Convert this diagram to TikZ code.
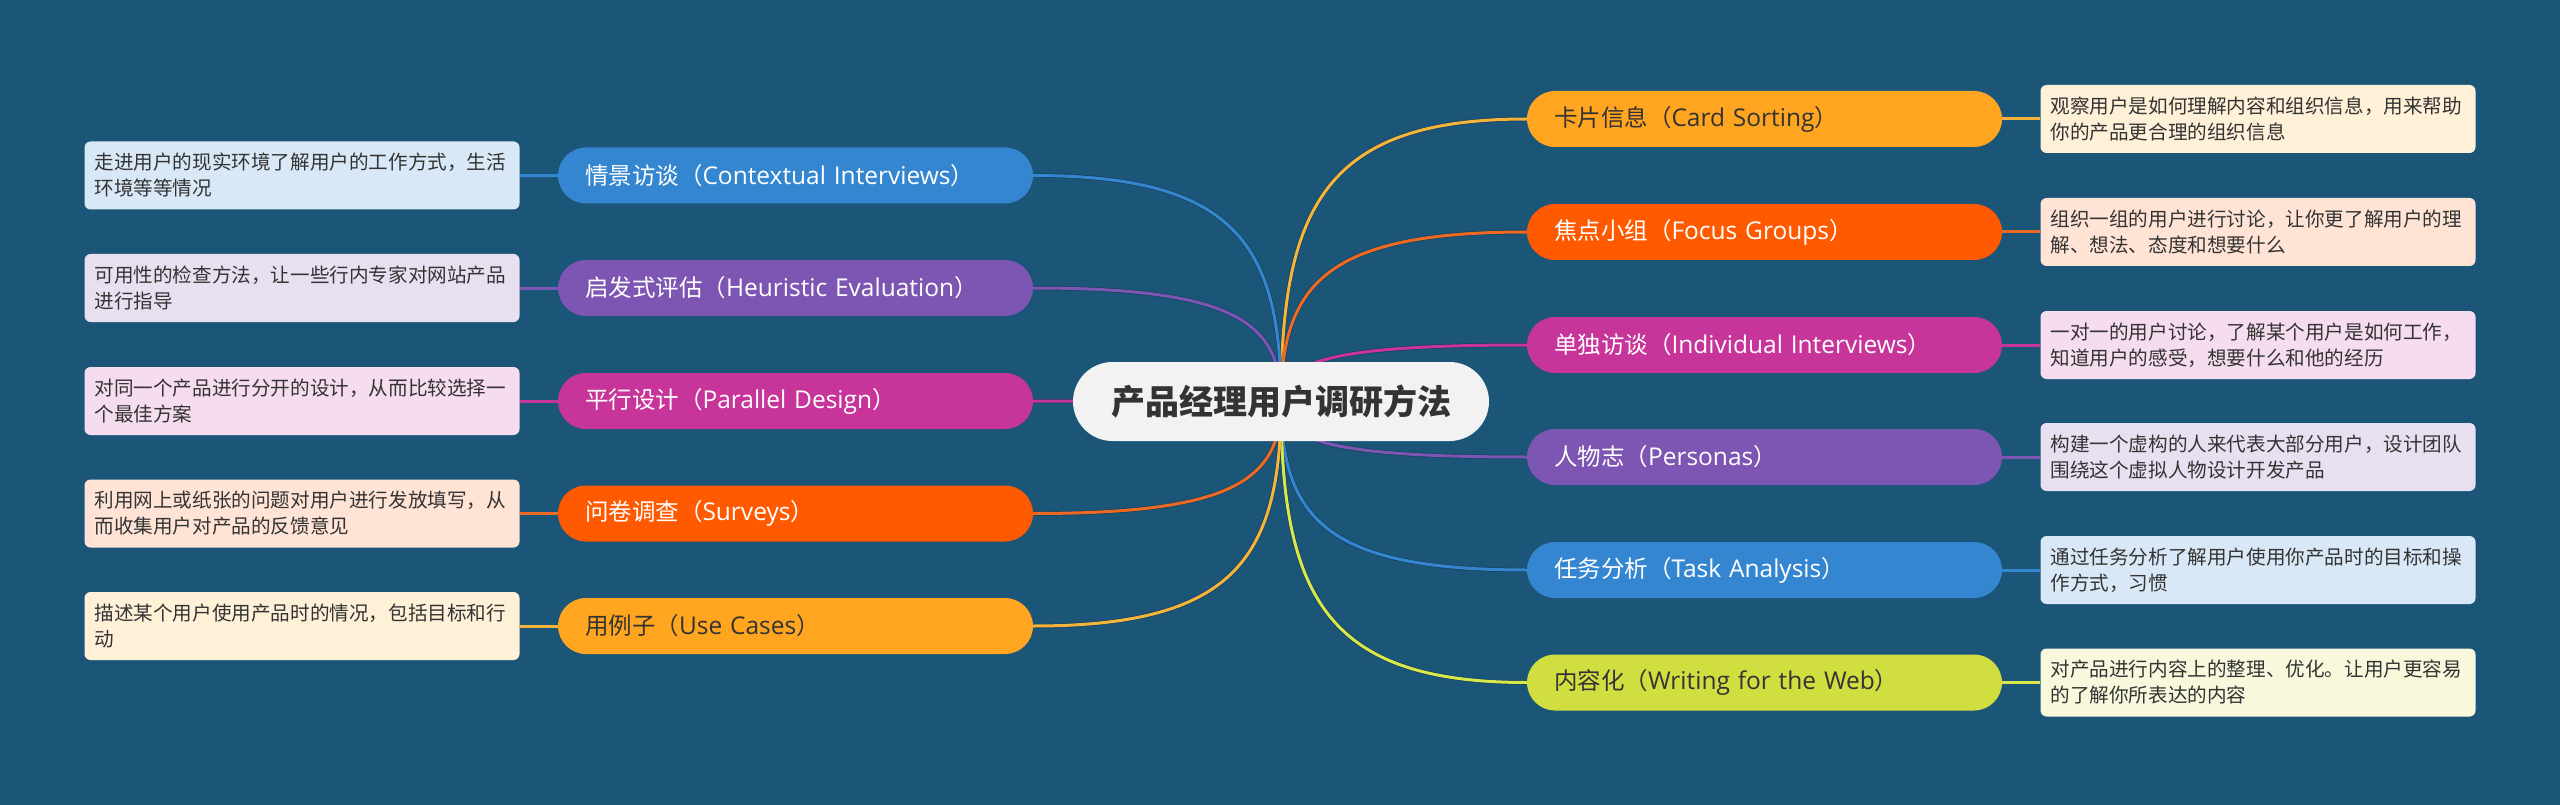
\documentclass[tikz,border=0pt]{standalone}
\usepackage{fontspec}
\setmainfont{Noto Sans CJK SC}
\newfontfamily\lat{Open Sans}
\usetikzlibrary{calc,backgrounds}
\pgfdeclarelayer{bg}
\pgfsetlayers{bg,background,main}
\definecolor{bgc}{HTML}{1B5578}
\definecolor{txt}{HTML}{333333}
\definecolor{cOr}{HTML}{FFA51F}
\definecolor{cOrL}{HTML}{F6B43A}
\definecolor{cOrD}{HTML}{FFF0D8}
\definecolor{cRd}{HTML}{FF5A00}
\definecolor{cRdL}{HTML}{EE6A24}
\definecolor{cRdD}{HTML}{FFE4D6}
\definecolor{cMg}{HTML}{C8359A}
\definecolor{cMgD}{HTML}{F5DCEE}
\definecolor{cPu}{HTML}{7D55B2}
\definecolor{cPuD}{HTML}{E8E0F1}
\definecolor{cBl}{HTML}{3586D0}
\definecolor{cBlD}{HTML}{D9E8F6}
\definecolor{cYg}{HTML}{D0DE40}
\definecolor{cYgL}{HTML}{D8E84A}
\definecolor{cYgD}{HTML}{F7F8DC}
\newcommand\mmcurve[2]{\draw[conn,#2] let \p1=(c.center), \p2=(#1) in (\p1) .. controls (\x1,{\y2+0.29*(\y1-\y2)}) and ({\x1+0.2*(\x2-\x1)},\y2) .. (\p2);}
\newcommand\pl[2]{#1（{\lat\fontsize{24.5}{28}\selectfont #2}）}
\begin{document}
\begin{tikzpicture}[x=1pt,y=-1pt,
  pill/.style={rounded corners=28pt, minimum height=56pt, text width=421pt, inner xsep=27pt, inner ysep=0pt, align=left, font=\fontsize{23.5}{28}\selectfont},
  desc/.style={rounded corners=6pt, minimum height=68pt, text width=415pt, inner xsep=10pt, inner ysep=3pt, align=left, font=\fontsize{19.6}{26}\selectfont, text=txt},
  conn/.style={line width=3pt, preaction={draw, line width=4.4pt, black, opacity=0.22}},
  lnk/.style={line width=3pt}]
\useasboundingbox (0,0) rectangle (2560,805);
\begin{pgfonlayer}{bg}
\fill[bgc] (0,0) rectangle (2560,805);
\end{pgfonlayer}

% central topic
\node[fill=black!5, rounded corners=39.5pt, minimum width=416pt, minimum height=79pt, inner sep=0pt, text=txt, font=\fontsize{34}{42}\selectfont\bfseries] (c) at (1281,401.5) {产品经理用户调研方法};

% right branches
\node[pill, fill=cOr, text=txt] (r1) at (1764.5,119) {\pl{卡片信息}{Card Sorting}};
\node[pill, fill=cRd, text=white] (r2) at (1764.5,232) {\pl{焦点小组}{Focus Groups}};
\node[pill, fill=cMg, text=white] (r3) at (1764.5,345) {\pl{单独访谈}{Individual Interviews}};
\node[pill, fill=cPu, text=white] (r4) at (1764.5,457) {\pl{人物志}{Personas}};
\node[pill, fill=cBl, text=white] (r5) at (1764.5,570) {\pl{任务分析}{Task Analysis}};
\node[pill, fill=cYg, text=txt] (r6) at (1764.5,682.5) {\pl{内容化}{Writing for the Web}};

\node[desc, fill=cOrD] (d1) at (2258,119) {观察用户是如何理解内容和组织信息，用来帮助\\你的产品更合理的组织信息};
\node[desc, fill=cRdD] (d2) at (2258,232) {组织一组的用户进行讨论，让你更了解用户的理\\解、想法、态度和想要什么};
\node[desc, fill=cMgD] (d3) at (2258,345) {一对一的用户讨论，了解某个用户是如何工作，\\知道用户的感受，想要什么和他的经历};
\node[desc, fill=cPuD] (d4) at (2258,457) {构建一个虚构的人来代表大部分用户，设计团队\\围绕这个虚拟人物设计开发产品};
\node[desc, fill=cBlD] (d5) at (2258,570) {通过任务分析了解用户使用你产品时的目标和操\\作方式，习惯};
\node[desc, fill=cYgD] (d6) at (2258,682.5) {对产品进行内容上的整理、优化。让用户更容易\\的了解你所表达的内容};

% left branches
\node[pill, fill=cBl, text=white] (l1) at (795.5,175.5) {\pl{情景访谈}{Contextual Interviews}};
\node[pill, fill=cPu, text=white] (l2) at (795.5,288) {\pl{启发式评估}{Heuristic Evaluation}};
\node[pill, fill=cMg, text=white] (l3) at (795.5,401) {\pl{平行设计}{Parallel Design}};
\node[pill, fill=cRd, text=white] (l4) at (795.5,513.5) {\pl{问卷调查}{Surveys}};
\node[pill, fill=cOr, text=txt] (l5) at (795.5,626) {\pl{用例子}{Use Cases}};

\node[desc, fill=cBlD] (e1) at (302,175.5) {走进用户的现实环境了解用户的工作方式，生活\\环境等等情况};
\node[desc, fill=cPuD] (e2) at (302,288) {可用性的检查方法，让一些行内专家对网站产品\\进行指导};
\node[desc, fill=cMgD] (e3) at (302,401) {对同一个产品进行分开的设计，从而比较选择一\\个最佳方案};
\node[desc, fill=cRdD] (e4) at (302,513.5) {利用网上或纸张的问题对用户进行发放填写，从\\而收集用户对产品的反馈意见};
\node[desc, fill=cOrD] (e5) at (302,626) {描述某个用户使用产品时的情况，包括目标和行\\动};

\begin{pgfonlayer}{background}
\mmcurve{r1.west}{cOrL}
\mmcurve{r2.west}{cRdL}
\mmcurve{r3.west}{cMg}
\mmcurve{r4.west}{cPu}
\mmcurve{r5.west}{cBl}
\mmcurve{r6.west}{cYgL}
\mmcurve{l1.east}{cBl}
\mmcurve{l2.east}{cPu}
\mmcurve{l3.east}{cMg}
\mmcurve{l4.east}{cRdL}
\mmcurve{l5.east}{cOrL}
\draw[lnk, cOrL] (r1.east) -- (d1.west);
\draw[lnk, cRdL] (r2.east) -- (d2.west);
\draw[lnk, cMg] (r3.east) -- (d3.west);
\draw[lnk, cPu] (r4.east) -- (d4.west);
\draw[lnk, cBl] (r5.east) -- (d5.west);
\draw[lnk, cYgL] (r6.east) -- (d6.west);
\draw[lnk, cBl] (l1.west) -- (e1.east);
\draw[lnk, cPu] (l2.west) -- (e2.east);
\draw[lnk, cMg] (l3.west) -- (e3.east);
\draw[lnk, cRdL] (l4.west) -- (e4.east);
\draw[lnk, cOrL] (l5.west) -- (e5.east);
\end{pgfonlayer}
\end{tikzpicture}
\end{document}
